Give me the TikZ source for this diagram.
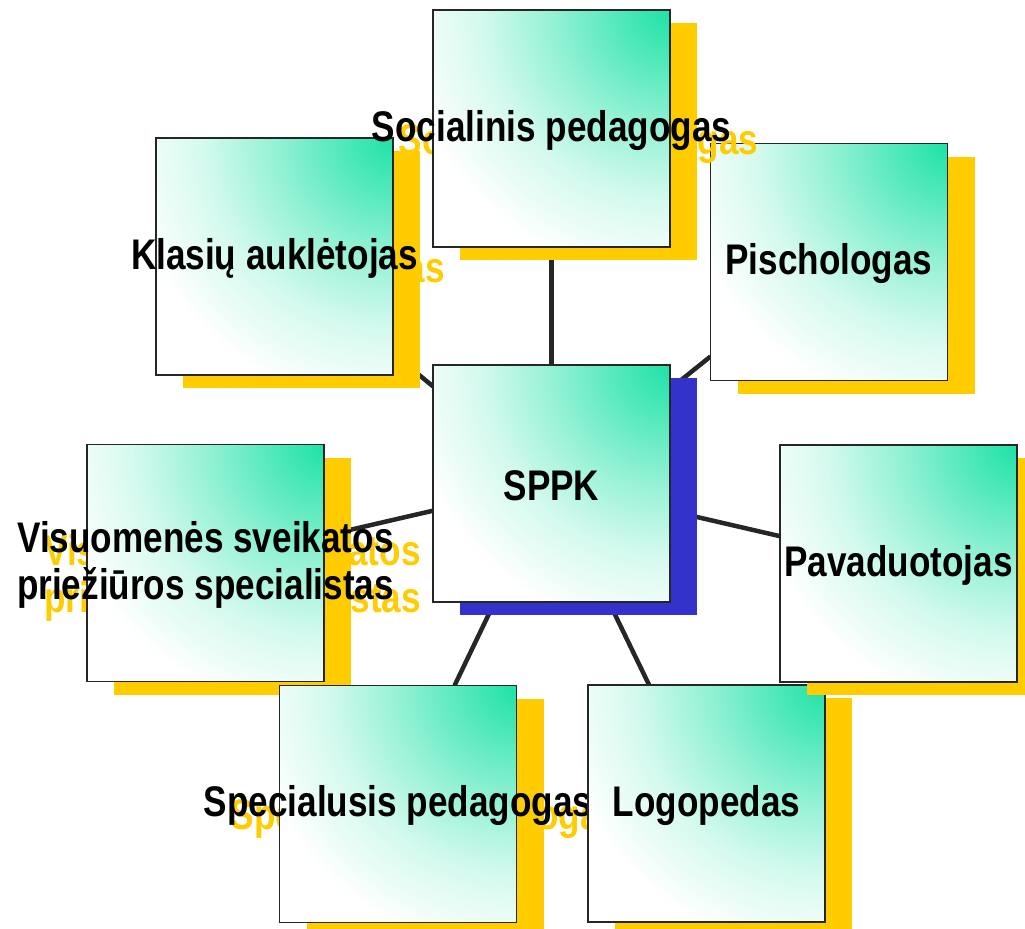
\documentclass[tikz,border=0pt]{standalone}
\usepackage{fontspec}
\newfontfamily\panelfont[FakeStretch=0.82]{Liberation Sans}
\usetikzlibrary{backgrounds}
\definecolor{grn}{RGB}{30,226,166}
\definecolor{yel}{RGB}{255,204,0}
\definecolor{blu}{RGB}{51,51,204}
\pgfdeclareradialshading{glow}{\pgfpointorigin}{%
  color(0bp)=(grn); color(4.6bp)=(grn!78!white); color(11bp)=(grn!47!white);
  color(17.5bp)=(grn!19!white); color(24.8bp)=(white); color(50bp)=(white)}
\tikzset{
  panel/.style={minimum width=237bp, minimum height=237bp, inner sep=0pt, outer sep=0pt},
  card/.style={panel, draw=black!85, line width=1.5bp, fill=white,
    path picture={\shade[shading=glow] (path picture bounding box.north east) circle (272bp);}},
  lbl/.style={font=\panelfont\bfseries\fontsize{43}{48}\selectfont, align=center, inner sep=0pt},
  link/.style={line width=4.5bp, draw=black!85}
}
\begin{document}
\begin{tikzpicture}[x=1bp,y=-1bp]
\useasboundingbox (0,0) rectangle (1025,929);
\clip (0,0) rectangle (1025,929);
% shadow, box, text
\foreach \nm/\px/\py/\sc/\txt in {
  kla/274.5/256.5/yel/{Klasių auklėtojas},
  pis/829/262/yel/{Pischologas},
  soc/551.5/128.5/yel/{Socialinis pedagogas},
  sppk/551.5/483.5/blu/{SPPK},
  vis/205.5/563/yel/{Visuomenės sveikatos\\priežiūros specialistas},
  spe/398/804/yel/{Specialusis pedagogas},
  log/706.5/803.5/yel/{Logopedas},
  pav/898.5/563.5/yel/{Pavaduotojas}}{
  \node[panel, fill=\sc] (\nm-s) at (\px+27,\py+13) {};
  \node[lbl, text=\sc] (\nm-st) at (\px+27,\py+15) {\txt};
  \node[card] (\nm) at (\px,\py) {};
  \node[lbl] (\nm-t) at (\px,\py+2) {\txt};
}
\begin{pgfonlayer}{background}
  \foreach \nm in {kla,pis,soc,vis,spe,log,pav}
    \draw[link] (sppk) -- (\nm);
\end{pgfonlayer}
\end{tikzpicture}
\end{document}
